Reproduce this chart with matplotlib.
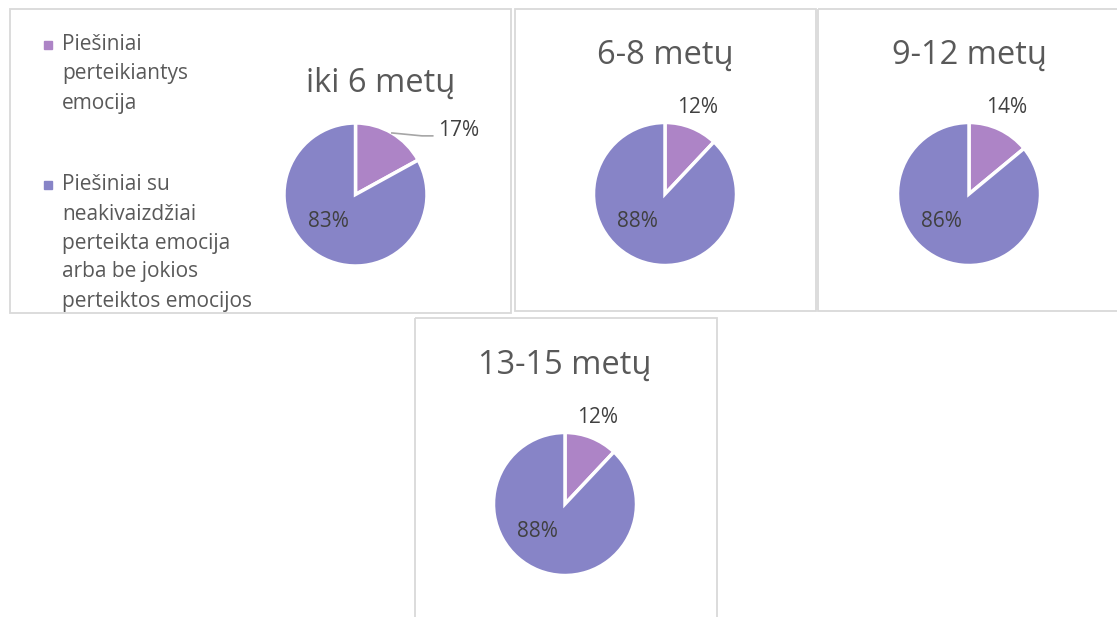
import matplotlib
matplotlib.use('Agg')
import matplotlib.pyplot as plt
import numpy as np
from matplotlib.patches import Rectangle

plt.rcParams['font.family'] = ['Open Sans', 'DejaVu Sans']

# Share of drawings per age group (percent)
groups = ['iki 6 metų', '6-8 metų', '9-12 metų', '13-15 metų']
with_emotion = [17, 12, 14, 12]
without_emotion = [83, 88, 86, 88]
legend_labels = [
    ['Piešiniai', 'perteikiantys', 'emocija'],
    ['Piešiniai su', 'neakivaizdžiai', 'perteikta emocija', 'arba be jokios', 'perteiktos emocijos'],
]

colors = ['#AD84C6', '#8784C7']
border = '#D9D9D9'
title_color = '#595959'
label_color = '#404040'

W, H = 1117, 617
fig = plt.figure(figsize=(W / 100, H / 100), dpi=100)
fig.patch.set_facecolor('white')


def px_axes(x0, y0, x1, y1):
    # axes from pixel box (top-left origin)
    return fig.add_axes([x0 / W, 1 - y1 / H, (x1 - x0) / W, (y1 - y0) / H])


def fig_xy(x, y):
    return x / W, 1 - y / H


# panel boxes, pie centres, title anchors (pixels)
panels = [(9.5, 8.5, 510.5, 312.5), (514.5, 8.5, 815.5, 310.5),
          (817.5, 8.5, 1125, 310.5), (414.5, 317.5, 716.5, 625)]
centres = [(355.5, 194.5), (665, 194), (969, 194), (565, 504)]
titles_at = [(381, 92), (665, 64), (969, 64), (565, 374)]
radius = 71.5

frames = []
for (x0, y0, x1, y1) in panels:
    fax = px_axes(0, 0, W, H)
    fax.set_xlim(0, W)
    fax.set_ylim(H, 0)
    fax.axis('off')
    fax.add_patch(Rectangle((x0, y0), x1 - x0, y1 - y0, fill=False,
                            edgecolor=border, linewidth=1.3))
    frames.append(fax)

for i, group in enumerate(groups):
    cx, cy = centres[i]
    ax = px_axes(cx - radius, cy - radius, cx + radius, cy + radius)
    wedges, _ = ax.pie([with_emotion[i], without_emotion[i]], colors=colors,
                       startangle=90, counterclock=False, radius=1,
                       wedgeprops=dict(edgecolor='white', linewidth=2.5))
    ax.set_xlim(-1, 1)
    ax.set_ylim(-1, 1)
    ax.set_aspect('equal')

    mid = np.deg2rad((wedges[0].theta1 + wedges[0].theta2) / 2)
    if i == 0:
        # label pushed out to the right with a leader line
        ex, ey = np.cos(mid), np.sin(mid)
        ax.plot([ex, 0.93, 1.08], [ey, 0.82, 0.82], color='#A6A6A6',
                linewidth=1.2, clip_on=False)
        ax.text(1.15, 0.90, f'{with_emotion[i]}%', ha='left', va='center',
                fontsize=15, color=label_color)
    else:
        ax.text(1.25 * np.cos(mid), 1.21, f'{with_emotion[i]}%', ha='center',
                va='center', fontsize=15, color=label_color)
    ang = np.deg2rad(-135)
    ax.text(0.54 * np.cos(ang), 0.54 * np.sin(ang), f'{without_emotion[i]}%',
            ha='center', va='center', fontsize=15, color=label_color)

    tx, ty = titles_at[i]
    fig.text(*fig_xy(tx, ty), group, ha='center', va='baseline',
             fontsize=23.5, color=title_color)

# legend inside the first panel, clipped by its border
x0, y0, x1, y1 = panels[0]
lax = px_axes(x0, y0, x1, y1)
lax.set_xlim(x0, x1)
lax.set_ylim(y1, y0)
lax.axis('off')
starts = [45, 185]
for k, lines in enumerate(legend_labels):
    lax.add_patch(Rectangle((44.5, starts[k] - 4), 8, 8, color=colors[k]))
    for j, line in enumerate(lines):
        lax.text(62, starts[k] + j * 29, line, ha='left', va='center',
                 fontsize=15, color=title_color, clip_on=True)

fig.savefig('out.png', dpi=100, facecolor='white')
